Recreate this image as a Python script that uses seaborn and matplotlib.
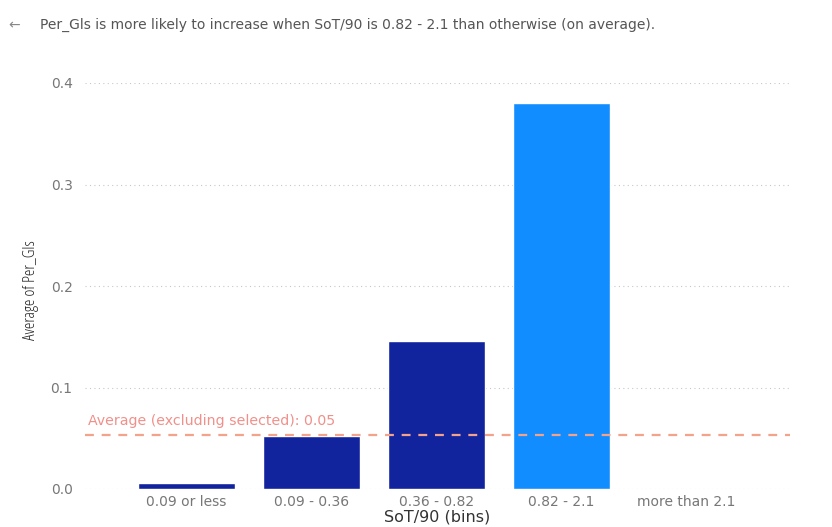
import matplotlib
matplotlib.use("Agg")
import matplotlib.pyplot as plt
from matplotlib.font_manager import FontProperties
import seaborn as sns
import pandas as pd

categories = ["0.09 or less", "0.09 - 0.36", "0.36 - 0.82", "0.82 - 2.1", "more than 2.1"]
values = [0.006, 0.052, 0.146, 0.380, 0.0]
bar_colors = ["#12239E", "#12239E", "#12239E", "#118DFF", "#12239E"]
avg_excluding = 0.053
yticks = [0.0, 0.1, 0.2, 0.3, 0.4]
title = "Per_Gls is more likely to increase when SoT/90 is 0.82 - 2.1 than otherwise (on average)."

sns.set_theme(style="white")
plt.rcParams['font.family'] = ['DejaVu Sans']

df = pd.DataFrame({"bin": categories, "val": values})

fig = plt.figure(figsize=(8.32, 5.27), dpi=100)
ax = fig.add_axes([85/832, 1-489/527, (790-85)/832, (489-83)/527])

sns.barplot(data=df, x="bin", y="val", hue="bin", palette=bar_colors, legend=False,
            width=0.775, ax=ax, saturation=1)

ax.set_ylim(0, 0.4)
ax.set_xlim(-0.81, 4.83)
ax.set_yticks(yticks)
ax.set_yticklabels([f"{t:.1f}" for t in yticks])
for t in yticks:
    ax.axhline(t, color="#C8C8C8", linestyle=(0, (1, 3)), linewidth=0.8, zorder=0)

ax.axhline(avg_excluding, color="#F2A38A", linestyle=(0, (4, 3.5)), linewidth=1.6, zorder=3)
ax.text(-0.79, avg_excluding + 0.007, f"Average (excluding selected): {avg_excluding:.2f}",
        color="#F0908A", fontsize=10.2, va="bottom", ha="left")

for s in ax.spines.values():
    s.set_visible(False)
ax.tick_params(axis="both", length=0, labelsize=10, labelcolor="#777777")
ax.tick_params(axis="y", pad=9)
ax.tick_params(axis="x", pad=4)
ax.set_xlabel("SoT/90 (bins)", fontsize=11.5, color="#333333", labelpad=1)
ax.set_ylabel("")
fp = FontProperties(family="Open Sans", stretch="condensed", size=12, weight="medium")
fig.text(31/832, 1-290/527, "Average of Per_Gls", rotation=90, fontproperties=fp,
         color="#222222", ha="center", va="center")

fig.text(8/832, 1-25/527, "\u2190", fontsize=10, color="#888888", ha="left", va="center")
fig.text(40/832, 1-25/527, title, fontsize=10, color="#555555", ha="left", va="center")

fig.savefig("out.png", dpi=100, facecolor="white")
